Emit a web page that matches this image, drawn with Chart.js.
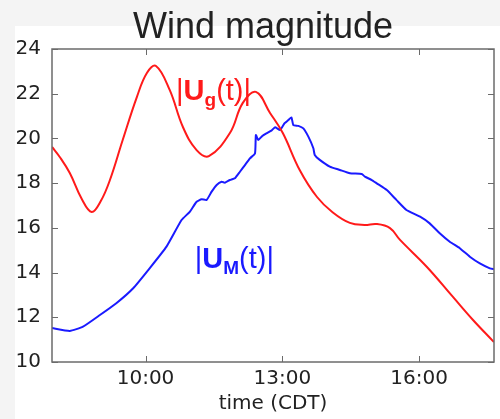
<!DOCTYPE html>
<html>
<head>
<meta charset="utf-8">
<script src="https://cdn.jsdelivr.net/npm/chart.js@4.4.1/dist/chart.umd.min.js"></script>
<style>
  html, body { margin: 0; padding: 0; background: #f4f4f4; }
  #wrap { width: 500px; height: 419px; }
</style>
</head>
<body>
<div id="wrap"><canvas id="wind-chart" width="500" height="419"></canvas></div>
<script>
// time in decimal hours (CDT)
const ugHours = [7.95, 8.12, 8.34, 8.6, 8.82, 9.02, 9.22, 9.5, 9.81, 10.03, 10.23, 10.53, 10.82, 11.12, 11.39,
                 11.85, 12.13, 12.42, 12.73, 13.01, 13.38, 13.76, 14.1, 14.48, 14.8, 15.07, 15.36, 15.58,
                 16.17, 16.74, 17.18, 17.64];
const ugValues = [19.62, 19.17, 18.45, 17.3, 16.71, 17.2, 18.14, 19.93, 21.85, 22.93, 23.24, 22.17, 20.51, 19.48, 19.21,
                  20.24, 21.58, 22.08, 21.14, 20.24, 18.59, 17.38, 16.7, 16.22, 16.13, 16.17, 15.99, 15.46,
                  14.25, 12.91, 11.88, 10.89];

const umHours = [7.95, 8.34, 8.63, 9.0, 9.36, 9.73, 10.09, 10.46, 10.79, 10.97, 11.12, 11.23, 11.34,
                 11.45, 11.56, 11.67, 11.74, 11.85, 11.96, 12.07, 12.18, 12.29, 12.4, 12.42, 12.47,
                 12.56, 12.65, 12.76, 12.84, 12.95, 13.05, 13.13, 13.2, 13.24, 13.35, 13.46, 13.57,
                 13.68, 13.71, 13.82, 14.04, 14.26, 14.48, 14.74, 14.81, 14.96, 15.07, 15.29, 15.5,
                 15.72, 16.02, 16.23, 16.45, 16.67, 16.89, 17.11, 17.33, 17.55, 17.64];
const umValues = [11.52, 11.39, 11.58, 12.1, 12.63, 13.3, 14.19, 15.16, 16.35, 16.72, 17.17, 17.28, 17.25,
                  17.62, 17.92, 18.06, 18.02, 18.14, 18.22, 18.51, 18.81, 19.11, 19.33, 20.15, 19.93,
                  20.11, 20.23, 20.35, 20.5, 20.38, 20.68, 20.82, 20.94, 20.6, 20.56, 20.45, 20.08,
                  19.56, 19.26, 19.04, 18.74, 18.59, 18.44, 18.41, 18.29, 18.14, 17.99, 17.69, 17.25,
                  16.8, 16.5, 16.2, 15.76, 15.38, 15.09, 14.71, 14.41, 14.19, 14.15];

const xTickHours = [10, 13, 16];
const xTickLabels = ['10:00', '13:00', '16:00'];
const yTicks = [10, 12, 14, 16, 18, 20, 22, 24];

const toPoints = (xs, ys) => xs.map((x, i) => ({ x: x, y: ys[i] }));

const tickFont = { family: 'DejaVu Sans', size: 20 };
const frameColor = '#6b6b6b';

// white figure panel behind the axes
const panelPlugin = {
    id: 'panel',
    beforeDraw(chart) {
        const c = chart.ctx;
        c.save();
        c.fillStyle = '#ffffff';
        c.fillRect(15, 26, chart.width - 15, chart.height - 26);
        c.restore();
    }
};

// matplotlib-like frame with inward ticks on all four sides, title and curve labels
const decorPlugin = {
    id: 'decor',
    afterDraw(chart) {
        const c = chart.ctx;
        const a = chart.chartArea;
        const xs = chart.scales.x, ys = chart.scales.y;
        c.save();
        c.strokeStyle = frameColor;
        c.lineWidth = 1.5;
        c.strokeRect(a.left, a.top, a.right - a.left, a.bottom - a.top);
        c.lineWidth = 1;
        c.beginPath();
        yTicks.forEach(v => {
            const py = Math.round(ys.getPixelForValue(v)) + 0.5;
            c.moveTo(a.left, py); c.lineTo(a.left + 6, py);
            c.moveTo(a.right, py); c.lineTo(a.right - 6, py);
        });
        xTickHours.forEach(v => {
            const px = Math.round(xs.getPixelForValue(v)) + 0.5;
            c.moveTo(px, a.bottom); c.lineTo(px, a.bottom - 6);
            c.moveTo(px, a.top); c.lineTo(px, a.top + 6);
        });
        c.stroke();

        // title
        c.fillStyle = '#222222';
        c.font = '36px "Liberation Sans", Arial, sans-serif';
        c.textBaseline = 'alphabetic';
        c.textAlign = 'left';
        c.fillText('Wind magnitude', 133, 38);

        // curve labels
        drawLabel(c, xs.getPixelForValue(10.67), ys.getPixelForValue(21.72), 'g', '#ff1a1a');
        drawLabel(c, xs.getPixelForValue(11.08), ys.getPixelForValue(14.22), 'M', '#1a1aff');
        c.restore();
    }
};

function drawLabel(c, x, y, sub, color) {
    const parts = [
        { t: '|', f: '29px "Liberation Sans", Arial', dy: 0 },
        { t: 'U', f: 'bold 29px "Liberation Sans", Arial', dy: 0 },
        { t: sub, f: 'bold 19px "Liberation Sans", Arial', dy: 6 },
        { t: '(t)', f: '29px "Liberation Sans", Arial', dy: 0 },
        { t: '|', f: '29px "Liberation Sans", Arial', dy: 0 }
    ];
    c.fillStyle = color;
    c.textAlign = 'left';
    c.textBaseline = 'alphabetic';
    let cx = x;
    parts.forEach(p => {
        c.font = p.f;
        c.fillText(p.t, cx, y + p.dy);
        cx += c.measureText(p.t).width;
    });
}

const ctx = document.getElementById('wind-chart').getContext('2d');
const windChart = new Chart(ctx, {
    type: 'line',
    data: {
        datasets: [{
            label: '|Ug(t)|',
            data: toPoints(ugHours, ugValues),
            borderColor: '#ff1a1a',
            borderWidth: 2,
            pointRadius: 0,
            tension: 0.4
        }, {
            label: '|UM(t)|',
            data: toPoints(umHours, umValues),
            borderColor: '#1a1aff',
            borderWidth: 2,
            pointRadius: 0,
            tension: 0.15
        }]
    },
    options: {
        responsive: false,
        animation: false,
        devicePixelRatio: 1,
        layout: { padding: { top: 49, right: 6, left: 0, bottom: 0 } },
        plugins: {
            legend: { display: false },
            tooltip: { enabled: false }
        },
        scales: {
            x: {
                type: 'linear',
                min: 7.95,
                max: 17.64,
                grid: { display: false },
                border: { display: false },
                afterBuildTicks: scale => {
                    scale.ticks = xTickHours.map(v => ({ value: v }));
                },
                afterFit: scale => { scale.height = 57; },
                ticks: {
                    autoSkip: false,
                    maxRotation: 0,
                    padding: -3,
                    color: '#222222',
                    font: tickFont,
                    callback: value => xTickLabels[xTickHours.indexOf(value)]
                },
                title: {
                    display: true,
                    text: 'time (CDT)',
                    color: '#222222',
                    font: tickFont,
                    padding: { top: 0, bottom: 3 }
                }
            },
            y: {
                min: 10,
                max: 24,
                grid: { display: false },
                border: { display: false },
                afterBuildTicks: scale => {
                    scale.ticks = yTicks.map(v => ({ value: v }));
                },
                afterFit: scale => { scale.width = 52; },
                ticks: {
                    padding: 3,
                    color: '#222222',
                    font: tickFont
                }
            }
        }
    },
    plugins: [panelPlugin, decorPlugin]
});
</script>
</body>
</html>
